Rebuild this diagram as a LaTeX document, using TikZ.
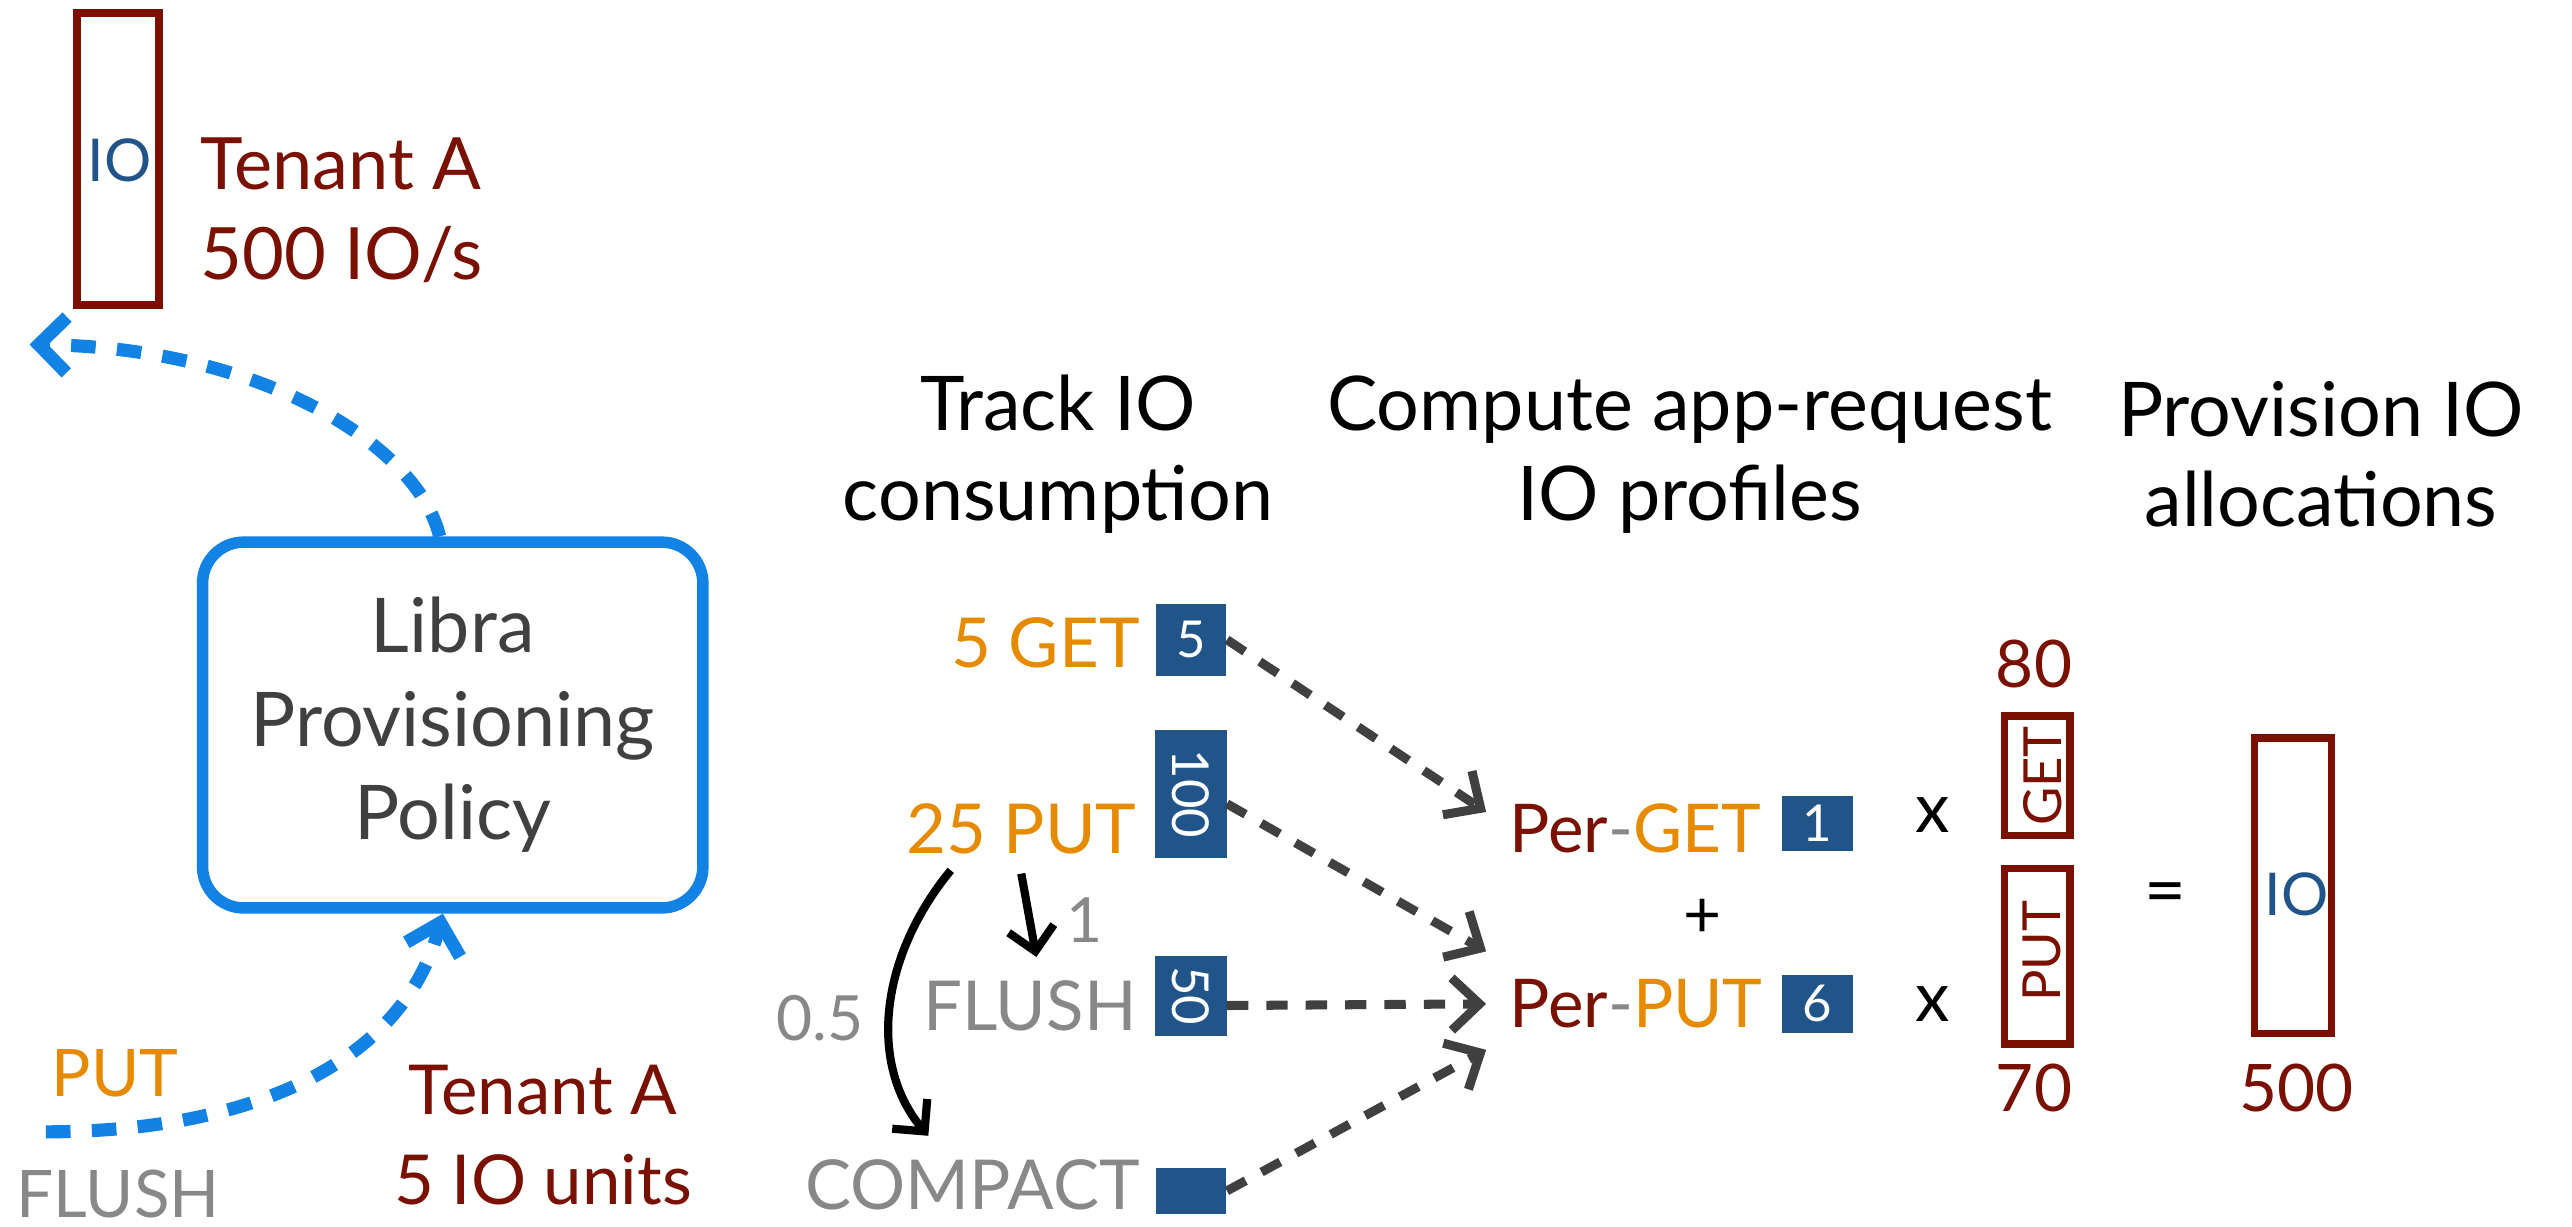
\documentclass[tikz,border=0pt]{standalone}
\usepackage{fontspec}
\setmainfont{Lato}
\usetikzlibrary{arrows.meta,calc}
\definecolor{dred}{RGB}{122,16,0}
\definecolor{orng}{RGB}{230,138,0}
\definecolor{lgray}{RGB}{136,136,136}
\definecolor{boxblue}{RGB}{33,84,137}
\definecolor{bblue}{RGB}{18,131,228}
\definecolor{dgray}{RGB}{64,64,64}
\tikzset{
  fs/.style={font=\fontsize{#1}{#1}\selectfont},
  head/.style={fs=46, text=black, align=center, inner sep=0pt},
  lbl/.style={fs=42, inner sep=0pt},
  valbox/.style={fill=boxblue, text=white, fs=31, inner sep=0pt, minimum width=43, minimum height=44},
  iorect/.style={draw=dred, line width=4.5, inner sep=0pt},
  dasharrow/.style={draw=dgray, line width=5.5, dash pattern=on 13 off 11, -{Straight Barb[length=17,width=32,line width=5.5]}},
  bluearrow/.style={draw=bblue, line width=8, dash pattern=on 15 off 13, -{Straight Barb[length=17,width=34,line width=8]}},
  solidarrow/.style={draw=black, line width=5, -{Straight Barb[length=14,width=28,line width=5]}}
}
\begin{document}
\begin{tikzpicture}[x=1pt,y=-1pt]
\useasboundingbox (0,0) rectangle (1568,748);

% top-left allocation
\node[iorect, minimum width=50, minimum height=178] (ioA) at (72,97) {};
\node[fs=36, text=boxblue] (ioAt) at (73,98) {IO};
\node[fs=44, text=dred, align=left, anchor=west, inner sep=0pt] (tenA) at (122,128) {Tenant A\\[11pt]500 IO/s};

% Libra box
\node[draw=bblue, line width=7, rounded corners=25, minimum width=305, minimum height=223,
      fs=46, text=dgray, align=center, inner sep=0pt] (libra) at (276,442)
      {Libra\\[11pt]Provisioning\\[11pt]Policy};
\coordinate (topTip) at (18,210);
\draw[bluearrow] ([xshift=-8]libra.north) .. controls (255,272) and (160,212) .. (topTip);

% bottom-left
\coordinate (inStart) at (28,690);
\node[fs=40, text=orng, inner sep=0pt] (putL) at (70,654) {PUT};
\node[fs=40, text=lgray, inner sep=0pt] (flushL) at (72,728) {FLUSH};
\node[fs=42, text=dred, align=center, inner sep=0pt] (tenB) at (331,692) {Tenant A\\[13pt]5 IO units};
\draw[bluearrow] (inStart) .. controls (150,690) and (245,650) .. ([xshift=-6]libra.south);

% headers
\node[head] (h1) at (645,277) {Track IO\\[9pt]consumption};
\node[head] (h2) at (1030,277) {Compute app-request\\[9pt]IO profiles};
\node[head] (h3) at (1415,277) {Provision IO\\[9pt]allocations};

% tracked requests
\node[lbl, text=orng, anchor=east] (get5) at (695,392) {5 GET};
\node[valbox] (b5) at (726,390) {5};
\node[lbl, text=orng, anchor=east] (put25) at (693,505) {25 PUT};
\node[valbox, rotate=-90, minimum width=78] (b100) at (726,484) {100};
\node[lbl, text=lgray, anchor=east] (flush) at (693,613) {FLUSH};
\node[valbox, rotate=-90, minimum width=49] (b50) at (726,607) {50};
\node[lbl, text=lgray, anchor=east] (compact) at (695,722) {COMPACT};
\node[valbox, minimum height=28] (bc) at (726,726) {};

\draw[solidarrow] ([xshift=0,yshift=-12]put25.south) -- ([xshift=4,yshift=14]flush.north);
\node[fs=38, text=lgray, inner sep=0pt] (one) at (661,561) {1};
\draw[solidarrow] ([xshift=-43,yshift=-10]put25.south) .. controls (535,585) and (530,650) .. ([xshift=-27,yshift=14]compact.north);
\node[fs=38, text=lgray, inner sep=0pt] (half) at (500,621) {0.5};

% profiles
\node[lbl, fs=41, anchor=west] (pget) at (920,505) {\textcolor{dred}{Per}\textcolor{lgray}{-}\textcolor{orng}{GET}};
\node[valbox, minimum height=34] (b1) at (1108,502) {1};
\node[lbl, fs=41, anchor=west] (pput) at (920,612) {\textcolor{dred}{Per}\textcolor{lgray}{-}\textcolor{orng}{PUT}};
\node[valbox, minimum height=35] (b6) at (1108,612) {6};
\node[fs=40] (plus) at (1038,560) {+};

\draw[dasharrow] ([xshift=22]b5.center) -- ([shift={(-14,-10)}]pget.west);
\draw[dasharrow] ([shift={(22,6)}]b100.center) -- ([shift={(-14,-32)}]pput.west);
\draw[dasharrow] ([shift={(22,6)}]b50.center) -- ([shift={(-14,0)}]pput.west);
\draw[dasharrow] ([xshift=22]bc.center) -- ([shift={(-14,28)}]pput.west);

% allocation
\node[fs=42] (x1) at (1178,497) {x};
\node[fs=42] (x2) at (1178,612) {x};
\node[fs=40, text=dred] (n80) at (1240,405) {80};
\node[iorect, minimum width=40, minimum height=73] (rget) at (1242,473) {};
\node[fs=32, text=dred, rotate=90] (rgett) at (1245,473) {GET};
\node[iorect, minimum width=40, minimum height=107] (rput) at (1242,583) {};
\node[fs=32, text=dred, rotate=90] (rputt) at (1245,580) {PUT};
\node[fs=40, text=dred] (n70) at (1240,663) {70};
\node[fs=44] (eq) at (1320,548) {=};
\node[iorect, minimum width=47, minimum height=180] (rio) at (1398,540) {};
\node[fs=36, text=boxblue] (riot) at (1400,545) {IO};
\node[fs=40, text=dred] (n500) at (1400,663) {500};
\end{tikzpicture}
\end{document}
